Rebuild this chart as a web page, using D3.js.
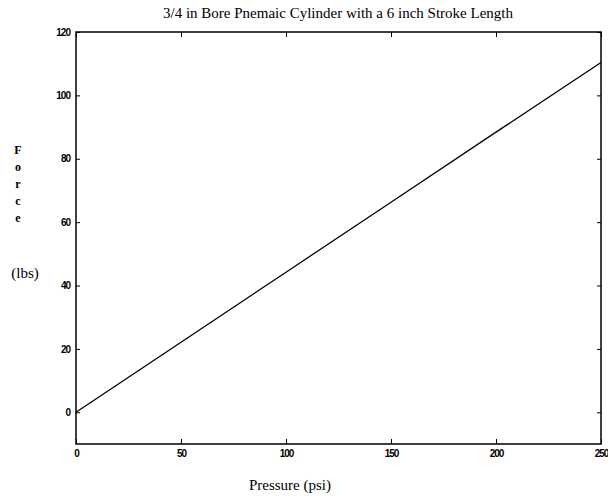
<!DOCTYPE html>
<html>
<head>
<meta charset="utf-8">
<script src="https://cdn.jsdelivr.net/npm/d3@7"></script>
<style>
  body { margin: 0; background: #fff; }
  .tick text { font-family: "Liberation Sans", Arial, sans-serif; font-weight: bold; font-size: 10px; letter-spacing: -1px; }
</style>
</head>
<body>
<div id="chart"></div>
<script>
// data: pressure (psi) vs force (lbs)
const pressure = [0, 50, 100, 150, 200, 250];
const force = [0, 22.1, 44.2, 66.3, 88.4, 110.4];
const xTicks = [0, 50, 100, 150, 200, 250];
const yTicks = [0, 20, 40, 60, 80, 100, 120];

const width = 608, height = 496;
const margin = { top: 32, right: 7, bottom: 52, left: 76 };

const svg = d3.select("#chart")
  .append("svg")
  .attr("width", width)
  .attr("height", height);

const x = d3.scaleLinear().domain([0, 250]).range([margin.left, width - margin.right]);
const y = d3.scaleLinear().domain([-10, 120]).range([height - margin.bottom, margin.top]);

// frame
svg.append("rect")
  .attr("x", x(0))
  .attr("y", y(120))
  .attr("width", x(250) - x(0))
  .attr("height", y(-10) - y(120))
  .attr("fill", "none")
  .attr("stroke", "#000")
  .attr("stroke-width", 1.5);

// bottom axis, inward ticks
svg.append("g")
  .attr("transform", `translate(0,${y(-10)})`)
  .call(d3.axisBottom(x).tickValues(xTicks).tickSize(-5).tickPadding(6))
  .call(g => g.select(".domain").remove());

// top ticks
svg.append("g")
  .attr("transform", `translate(0,${y(120)})`)
  .call(d3.axisTop(x).tickValues(xTicks).tickSize(-5).tickFormat(""))
  .call(g => g.select(".domain").remove());

// left axis
svg.append("g")
  .attr("transform", `translate(${x(0)},0)`)
  .call(d3.axisLeft(y).tickValues(yTicks).tickSize(-4).tickPadding(6))
  .call(g => g.select(".domain").remove());

// right ticks
svg.append("g")
  .attr("transform", `translate(${x(250)},0)`)
  .call(d3.axisRight(y).tickValues(yTicks).tickSize(-4).tickFormat(""))
  .call(g => g.select(".domain").remove());

// line
const line = d3.line()
  .x((d, i) => x(pressure[i]))
  .y(d => y(d));

svg.append("path")
  .datum(force)
  .attr("d", line)
  .attr("fill", "none")
  .attr("stroke", "#000")
  .attr("stroke-width", 1.3);

// title
svg.append("text")
  .attr("x", 338)
  .attr("y", 18)
  .attr("text-anchor", "middle")
  .style("font-family", "Liberation Serif, Times New Roman, serif")
  .style("font-size", "15px")
  .text("3/4 in Bore Pnemaic Cylinder with a 6 inch Stroke Length");

// x label
svg.append("text")
  .attr("x", 290)
  .attr("y", 490)
  .attr("text-anchor", "middle")
  .style("font-family", "Liberation Serif, Times New Roman, serif")
  .style("font-size", "15px")
  .text("Pressure (psi)");

// y label, stacked letters
const letters = ["F", "o", "r", "c", "e"];
const letterY = [154, 171, 188, 205, 222];
svg.append("g")
  .selectAll("text")
  .data(letters)
  .join("text")
  .attr("x", 18)
  .attr("y", (d, i) => letterY[i])
  .attr("text-anchor", "middle")
  .style("font-family", "Liberation Serif, Times New Roman, serif")
  .style("font-weight", "bold")
  .style("font-size", "12px")
  .text(d => d);

svg.append("text")
  .attr("x", 25)
  .attr("y", 278)
  .attr("text-anchor", "middle")
  .style("font-family", "Liberation Serif, Times New Roman, serif")
  .style("font-size", "15px")
  .text("(lbs)");
</script>
</body>
</html>
